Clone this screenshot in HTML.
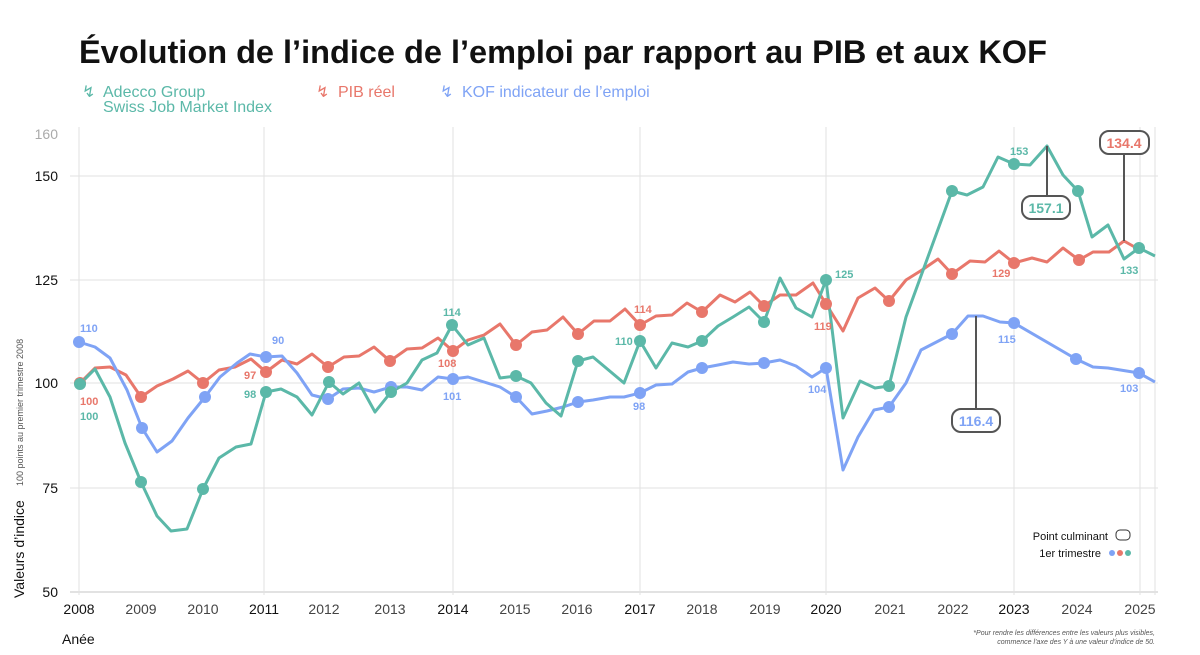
<!DOCTYPE html>
<html><head><meta charset="utf-8"><style>
body{margin:0;background:#fff;}
svg{display:block;font-family:"Liberation Sans",sans-serif;}
</style></head><body>
<svg width="1200" height="655" viewBox="0 0 1200 655" xmlns="http://www.w3.org/2000/svg">
<text x="79" y="63" font-size="32.5" font-weight="bold" fill="#111">Évolution de l’indice de l’emploi par rapport au PIB et aux KOF</text>
<g font-size="16">
<text x="82" y="97" fill="#5bb8a8">↯</text>
<text x="103" y="97" fill="#5bb8a8">Adecco Group</text>
<text x="103" y="112" fill="#5bb8a8">Swiss Job Market Index</text>
<text x="316" y="97" fill="#e8776b">↯</text>
<text x="338" y="97" fill="#e8776b">PIB réel</text>
<text x="440" y="97" fill="#7fa3f5">↯</text>
<text x="462" y="97" fill="#7fa3f5">KOF indicateur de l’emploi</text>
</g>
<g stroke="#e2e2e2" stroke-width="1">
<line x1="70" y1="176" x2="1158" y2="176"/><line x1="70" y1="280" x2="1158" y2="280"/>
<line x1="70" y1="383" x2="1158" y2="383"/><line x1="70" y1="488" x2="1158" y2="488"/>
<line x1="70" y1="592" x2="1158" y2="592" stroke-width="2"/>
<line x1="79" y1="127" x2="79" y2="595"/><line x1="264" y1="127" x2="264" y2="595"/>
<line x1="453" y1="127" x2="453" y2="595"/><line x1="640" y1="127" x2="640" y2="595"/>
<line x1="826" y1="127" x2="826" y2="595"/><line x1="1014" y1="127" x2="1014" y2="595"/>
<line x1="1140" y1="127" x2="1140" y2="595"/><line x1="1155" y1="127" x2="1155" y2="595"/>
</g>
<g font-size="14" text-anchor="end" fill="#111">
<text x="58" y="139" fill="#aaa">160</text><text x="58" y="181">150</text><text x="58" y="285">125</text>
<text x="58" y="388">100</text><text x="58" y="493">75</text><text x="58" y="597">50</text>
</g>
<g font-size="14" text-anchor="middle" fill="#444">
<text x="79" y="614" fill="#111">2008</text><text x="141" y="614">2009</text><text x="203" y="614">2010</text>
<text x="264" y="614" fill="#111">2011</text><text x="324" y="614">2012</text><text x="390" y="614">2013</text>
<text x="453" y="614" fill="#111">2014</text><text x="515" y="614">2015</text><text x="577" y="614">2016</text>
<text x="640" y="614" fill="#111">2017</text><text x="702" y="614">2018</text><text x="765" y="614">2019</text>
<text x="826" y="614" fill="#111">2020</text><text x="890" y="614">2021</text><text x="953" y="614">2022</text>
<text x="1014" y="614" fill="#111">2023</text><text x="1077" y="614">2024</text><text x="1140" y="614">2025</text>
</g>
<text x="62" y="644" font-size="14" fill="#111">Anée</text>
<text transform="translate(24,598) rotate(-90)" font-size="14" fill="#111">Valeurs d’indice</text>
<text transform="translate(23,486) rotate(-90)" font-size="9" fill="#555">100 points au premier trimestre 2008</text>
<g font-size="7" font-style="italic" fill="#555" text-anchor="end">
<text x="1155" y="635">*Pour rendre les différences entre les valeurs plus visibles,</text>
<text x="1155" y="644">commence l’axe des Y à une valeur d’indice de 50.</text>
</g>
<g fill="none" stroke-width="3" stroke-linejoin="round">
<polyline stroke="#e8776b" points="80,383 95,368 110,367 126,375 141,397 157,386 173,379 188,371 203,383 219,370 235,367 251,359 266,372 282,360 297,364 312,354 328,367 344,357 359,356 374,347 390,361 407,349 422,348 438,338 453,351 468,340 484,335 500,324 516,345 532,332 547,330 563,317 578,334 594,321 610,321 625,309 640,325 656,316 672,315 687,303 702,312 720,295 735,302 750,292 764,306 780,295 796,295 813,283 826,304 843,331 858,298 875,288 889,301 906,280 922,270 938,259 952,274 970,261 985,262 999,251 1014,263 1032,258 1047,262 1063,248 1079,260 1093,252 1109,252 1124,241 1140,250"/>
<polyline stroke="#7fa3f5" points="79,342 95,347 110,358 127,390 142,428 157,452 172,441 188,418 205,397 220,377 237,363 250,354 266,357 282,356 297,373 312,395 328,399 343,389 359,388 374,392 391,387 407,387 422,390 438,377 453,379 468,377 484,382 500,387 516,397 532,414 547,411 563,407 578,402 593,400 610,397 624,397 640,393 656,385 672,384 688,372 702,368 718,365 733,362 749,364 764,363 780,360 796,366 812,377 826,368 843,470 858,437 874,410 889,407 906,383 921,350 952,334 968,316 983,316 1000,322 1014,323 1076,359 1093,367 1108,368 1139,373 1155,382"/>
<polyline stroke="#5bb8a8" points="80,384 95,369 110,397 125,443 141,482 157,516 171,531 187,529 203,489 219,458 236,447 251,444 266,392 281,389 297,397 312,415 329,382 343,394 359,383 375,412 391,392 407,383 422,360 437,353 452,325 468,345 484,338 500,378 516,376 531,383 546,403 561,416 578,361 593,357 624,383 640,341 656,368 672,343 688,347 702,341 718,326 733,317 749,307 764,322 780,278 796,308 812,317 826,280 843,418 860,381 875,388 889,386 906,317 952,191 967,195 983,187 998,157 1014,164 1030,165 1047,146 1063,175 1078,191 1092,237 1108,225 1124,259 1139,248 1155,256"/>
</g>
<g fill="#e8776b">
<circle cx="80" cy="383" r="6"/><circle cx="141" cy="397" r="6"/><circle cx="203" cy="383" r="6"/><circle cx="266" cy="372" r="6"/><circle cx="328" cy="367" r="6"/><circle cx="390" cy="361" r="6"/><circle cx="453" cy="351" r="6"/><circle cx="516" cy="345" r="6"/><circle cx="578" cy="334" r="6"/><circle cx="640" cy="325" r="6"/><circle cx="702" cy="312" r="6"/><circle cx="764" cy="306" r="6"/><circle cx="826" cy="304" r="6"/><circle cx="889" cy="301" r="6"/><circle cx="952" cy="274" r="6"/><circle cx="1014" cy="263" r="6"/><circle cx="1079" cy="260" r="6"/>
</g>
<g fill="#7fa3f5">
<circle cx="79" cy="342" r="6"/><circle cx="142" cy="428" r="6"/><circle cx="205" cy="397" r="6"/><circle cx="266" cy="357" r="6"/><circle cx="328" cy="399" r="6"/><circle cx="391" cy="387" r="6"/><circle cx="453" cy="379" r="6"/><circle cx="516" cy="397" r="6"/><circle cx="578" cy="402" r="6"/><circle cx="640" cy="393" r="6"/><circle cx="702" cy="368" r="6"/><circle cx="764" cy="363" r="6"/><circle cx="826" cy="368" r="6"/><circle cx="889" cy="407" r="6"/><circle cx="952" cy="334" r="6"/><circle cx="1014" cy="323" r="6"/><circle cx="1076" cy="359" r="6"/><circle cx="1139" cy="373" r="6"/>
</g>
<g fill="#5bb8a8">
<circle cx="80" cy="384" r="6"/><circle cx="141" cy="482" r="6"/><circle cx="203" cy="489" r="6"/><circle cx="266" cy="392" r="6"/><circle cx="329" cy="382" r="6"/><circle cx="391" cy="392" r="6"/><circle cx="452" cy="325" r="6"/><circle cx="516" cy="376" r="6"/><circle cx="578" cy="361" r="6"/><circle cx="640" cy="341" r="6"/><circle cx="702" cy="341" r="6"/><circle cx="764" cy="322" r="6"/><circle cx="826" cy="280" r="6"/><circle cx="889" cy="386" r="6"/><circle cx="952" cy="191" r="6"/><circle cx="1014" cy="164" r="6"/><circle cx="1078" cy="191" r="6"/><circle cx="1139" cy="248" r="6"/>
</g>
<g font-size="11" font-weight="bold">
<g fill="#7fa3f5"><text x="80" y="332">110</text><text x="272" y="344">90</text><text x="443" y="400">101</text><text x="633" y="410">98</text><text x="808" y="393">104</text><text x="998" y="343">115</text><text x="1120" y="392">103</text></g>
<g fill="#e8776b"><text x="80" y="405">100</text><text x="244" y="379">97</text><text x="438" y="367">108</text><text x="634" y="313">114</text><text x="814" y="330">119</text><text x="992" y="277">129</text></g>
<g fill="#5bb8a8"><text x="80" y="420">100</text><text x="244" y="398">98</text><text x="443" y="316">114</text><text x="615" y="345">110</text><text x="835" y="278">125</text><text x="1010" y="155">153</text><text x="1120" y="274">133</text></g>
</g>
<g stroke="#555" stroke-width="2" fill="#fff">
<line x1="1047" y1="146" x2="1047" y2="196"/><line x1="1124" y1="153" x2="1124" y2="241"/><line x1="976" y1="316" x2="976" y2="409"/>
<rect x="1022" y="196" width="48" height="23" rx="9"/><rect x="1100" y="131" width="49" height="23" rx="9"/><rect x="952" y="409" width="48" height="23" rx="9"/>
</g>
<g font-size="14" font-weight="bold" text-anchor="middle">
<text x="1046" y="213" fill="#5bb8a8">157.1</text><text x="1124" y="148" fill="#e8776b">134.4</text><text x="976" y="426" fill="#7fa3f5">116.4</text>
</g>
<g font-size="11" fill="#111" text-anchor="end">
<text x="1108" y="540">Point culminant</text><text x="1101" y="557">1er trimestre</text>
</g>
<rect x="1116" y="530" width="14" height="10" rx="4" fill="#fff" stroke="#333"/>
<circle cx="1112" cy="553" r="3" fill="#7fa3f5"/><circle cx="1120" cy="553" r="3" fill="#e8776b"/><circle cx="1128" cy="553" r="3" fill="#5bb8a8"/>
</svg>
</body></html>
